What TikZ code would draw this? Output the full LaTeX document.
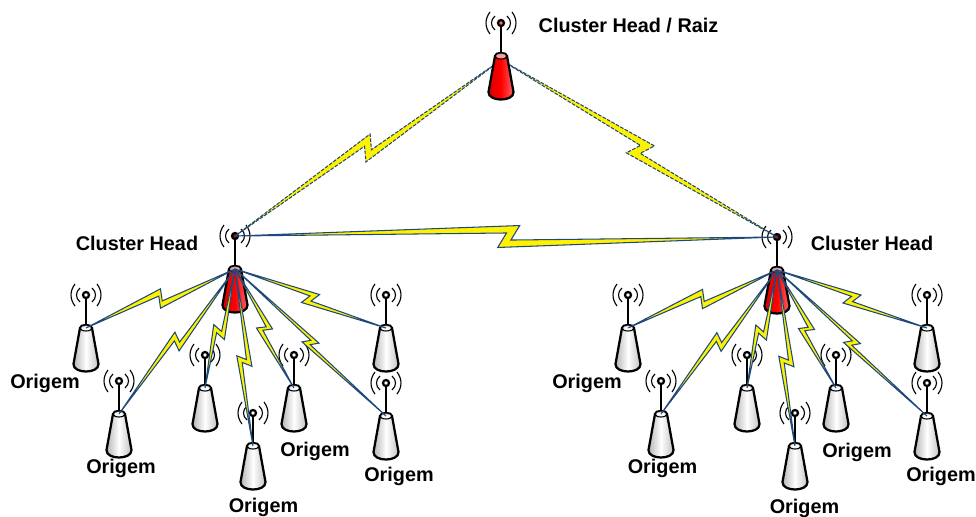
\documentclass[tikz,border=0pt]{standalone}
\usepackage{fontspec}
\setmainfont{Liberation Sans}
\usetikzlibrary{calc}
\definecolor{linkblue}{RGB}{31,73,125}
\newcommand{\bolt}[6][link]{
\coordinate (m) at ($(#2)!#4!(#3)$);
\draw[#1] (#2) -- ($(m)!#5*0.025cm!(#3)!#6*0.025cm!90:(#3)$)
 -- ($(m)!#5*0.005cm!(#3)!-#6*0.008cm!90:(#3)$) -- (#3)
 -- ($(m)!-#5*0.025cm!(#3)!-#6*0.025cm!90:(#3)$)
 -- ($(m)!-#5*0.005cm!(#3)!#6*0.008cm!90:(#3)$) -- cycle;
}
\tikzset{
antenna/.pic={
\draw[mast] (0,0) -- (0,32);
\draw[tower,#1] (-6,33) -- (-12.5,69) .. controls (-13,79) and (13,79) .. (12.5,69) -- (6,33)
 .. controls (6,29) and (-6,29) .. cycle;
\draw[mast,line width=0.8pt,fill=white,fill opacity=0.6] (0,33) ellipse (6 and 3);
\fill[white] (0,0) circle (3);
\draw[mast,line width=1.6pt,pic actions] (0,0) circle (3);
\draw[wave] (-6,-7) .. controls (-10.7,-3) and (-10.7,3) .. (-6,7);
\draw[wave] (6,-7) .. controls (10.7,-3) and (10.7,3) .. (6,7);
\draw[wave] (-11,-11) .. controls (-16.3,-4) and (-16.3,4) .. (-11,11);
\draw[wave] (11,-11) .. controls (16.3,-4) and (16.3,4) .. (11,11);
\coordinate (-head) at (0,0);
\coordinate (-top) at (0,33);
}}
\begin{document}
\begin{tikzpicture}
[x=0.025cm,y=-0.025cm,
mast/.style ={draw=black, line width=1.9pt},
tower/.style ={draw=black, line width=1.6pt},
towergrey/.style ={left color=black!30, right color=black!25, middle color=white},
towerred/.style ={left color=red!85!black, right color=red!60, middle color=red},
wave/.style ={draw=black, line width=0.8pt},
link/.style ={draw=linkblue, line width=0.75pt, fill=yellow, line join=miter},
linkdash/.style ={link, dash pattern=on 2.6pt off 1pt},
label/.style ={font=\bfseries\fontsize{14.1}{16}\selectfont, inner sep=0pt}]
\useasboundingbox (0,0) rectangle (976,516);
% left group
\pic[fill=red!70!black] (ch1) at (235,236) {antenna=towerred};
\pic (a1) at (86,295) {antenna=towergrey};
\pic (a2) at (119,381) {antenna=towergrey};
\pic (a3) at (205,355) {antenna=towergrey};
\pic (a4) at (253,413) {antenna=towergrey};
\pic (a5) at (294,355) {antenna=towergrey};
\pic (a6) at (386,295) {antenna=towergrey};
\pic (a7) at (386,383) {antenna=towergrey};
% right group
\pic[fill=red!70!black] (ch2) at (777,237) {antenna=towerred};
\pic (b1) at (628,295) {antenna=towergrey};
\pic (b2) at (661,381) {antenna=towergrey};
\pic (b3) at (747,355) {antenna=towergrey};
\pic (b4) at (795,413) {antenna=towergrey};
\pic (b5) at (836,355) {antenna=towergrey};
\pic (b6) at (927,295) {antenna=towergrey};
\pic (b7) at (927,383) {antenna=towergrey};
\coordinate (rootc) at (501,60);
% links
\bolt[linkdash]{rootc}{ch1-head}{0.5}{9.5}{10.5}
\bolt[linkdash]{rootc}{ch2-head}{0.505}{10}{10.5}
\bolt{ch1-head}{ch2-head}{0.505}{11}{11}
\bolt{ch1-top}{a1-top}{0.5}{3.5}{9}
\bolt{ch1-top}{a2-top}{0.5}{6}{7.5}
\bolt{ch1-top}{a3-top}{0.53}{6}{7}
\bolt{ch1-top}{a4-top}{0.52}{6}{7}
\bolt{ch1-top}{a5-top}{0.5}{4}{7}
\bolt{ch1-top}{a6-top}{0.5}{7}{7}
\bolt{ch1-top}{a7-top}{0.5}{6.5}{5.5}
\bolt{ch2-top}{b1-top}{0.5}{3.5}{9}
\bolt{ch2-top}{b2-top}{0.5}{6}{7.5}
\bolt{ch2-top}{b3-top}{0.53}{6}{7}
\bolt{ch2-top}{b4-top}{0.52}{6}{7}
\bolt{ch2-top}{b5-top}{0.5}{4}{7}
\bolt{ch2-top}{b6-top}{0.5}{7}{7}
\bolt{ch2-top}{b7-top}{0.5}{6.5}{5.5}
\pic[fill=red!60] (root) at (501,23) {antenna=towerred};
% labels
\draw (628.5,26) node[label] (lroot) {Cluster Head / Raiz};
\draw (137,243) node[label] (lch1) {Cluster Head};
\draw (872,243) node[label] (lch2) {Cluster Head};
\draw (45,383.5) node[label] (la1) {Origem};
\draw (121,468.5) node[label] (la2) {Origem};
\draw (315,451.5) node[label] (la5) {Origem};
\draw (263.5,507.5) node[label] (la4) {Origem};
\draw (399,476.5) node[label] (la7) {Origem};
\draw (587,383.5) node[label] (lb1) {Origem};
\draw (662.5,468.5) node[label] (lb2) {Origem};
\draw (857,452.5) node[label] (lb5) {Origem};
\draw (804.5,508) node[label] (lb4) {Origem};
\draw (941,476.5) node[label] (lb7) {Origem};
\end{tikzpicture}
\end{document}
